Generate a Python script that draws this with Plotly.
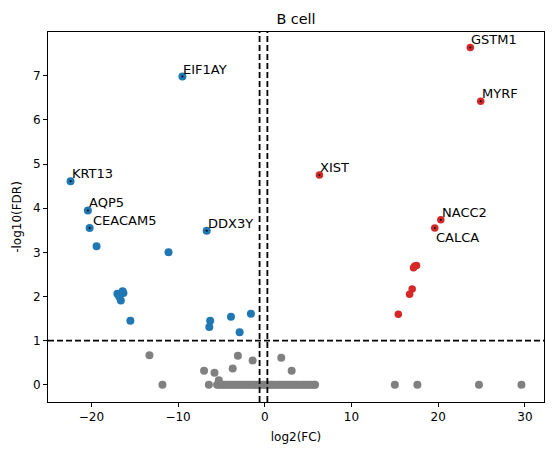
import plotly.graph_objects as go

# values (B cell)
up_genes = ["GSTM1", "MYRF", "XIST", "NACC2", "CALCA", "", "", "", "", "", ""]
up_fc = [23.7, 24.9, 6.3, 20.3, 19.6, 17.3, 17.5, 17.15, 17.0, 16.7, 15.4]
up_logfdr = [7.64, 6.42, 4.75, 3.74, 3.55, 2.69, 2.70, 2.65, 2.17, 2.05, 1.60]

down_genes = ["EIF1AY", "KRT13", "AQP5", "CEACAM5", "DDX3Y", "", "", "", "", "", "",
              "", "", "", "", "", "", ""]
down_fc = [-9.5, -22.4, -20.4, -20.2, -6.7, -19.4, -11.1, -17.0, -16.4, -16.3, -16.6,
           -16.8, -15.5, -6.3, -6.4, -3.9, -2.9, -1.6]
down_logfdr = [6.98, 4.61, 3.95, 3.55, 3.49, 3.14, 3.0, 2.06, 2.12, 2.08, 1.91,
               2.0, 1.45, 1.45, 1.31, 1.54, 1.19, 1.61]

ns_fc = [-13.3, -11.8, -7.0, -5.8, -6.45, -5.3, -3.7, -3.1, -1.4, 1.9, 3.1,
         15.0, 17.6, 24.7, 29.6,
         -5.5, -5.3, -5.05, -4.8, -4.6, -4.35, -4.1, -3.9, -3.65, -3.4, -3.2,
         -2.95, -2.7, -2.5, -2.25, -2.0, -1.8, -1.55, -1.3, -1.1, -0.85, -0.6,
         -0.4, -0.15, 0.1, 0.3, 0.55, 0.8, 1.0, 1.25, 1.5, 1.7, 1.95, 2.2, 2.4,
         2.65, 2.9, 3.1, 3.35, 3.6, 3.8, 4.05, 4.3, 4.5, 4.75, 5.0, 5.2, 5.45,
         5.7, 5.8]
ns_logfdr = [0.67, 0.0, 0.32, 0.27, 0.0, 0.1, 0.37, 0.66, 0.55, 0.61, 0.32,
             0.0, 0.0, 0.0, 0.0] + [0.0] * 50

fc_cutoffs = [-0.6, 0.3]
fdr_cutoff = 1.0

FONT = "DejaVu Sans"
W, H = 546, 447  # page body adds an 8px margin

fig = go.Figure()
fig.add_trace(go.Scatter(x=ns_fc, y=ns_logfdr, mode="markers",
                         marker=dict(color="#808080", size=8), hoverinfo="skip"))
fig.add_trace(go.Scatter(x=down_fc, y=down_logfdr, mode="markers",
                         marker=dict(color="#1f77b4", size=8)))
fig.add_trace(go.Scatter(x=up_fc, y=up_logfdr, mode="markers",
                         marker=dict(color="#d62728", size=7.5)))

# labelled genes: small black dot + text
lab_x, lab_y, lab_t = [], [], []
for genes, xs, ys in [(up_genes, up_fc, up_logfdr), (down_genes, down_fc, down_logfdr)]:
    for g, x, y in zip(genes, xs, ys):
        if g:
            lab_x.append(x)
            lab_y.append(y)
            lab_t.append(g)
fig.add_trace(go.Scatter(x=lab_x, y=lab_y, mode="markers",
                         marker=dict(color="black", size=2)))

for g, x, y in zip(lab_t, lab_x, lab_y):
    below = g == "CALCA"
    fig.add_annotation(x=x, y=y, text=g, showarrow=False,
                       xanchor="left", yanchor="top" if below else "bottom",
                       xshift=-1 if g != "CEACAM5" else 1,
                       yshift=0 if below else -2,
                       font=dict(family=FONT, size=13, color="black"))

for c in fc_cutoffs:
    fig.add_vline(x=c, line=dict(color="black", width=1.8, dash="6px,3px"))
fig.add_hline(y=fdr_cutoff, line=dict(color="black", width=1.8, dash="6px,3px"))

axis_common = dict(showgrid=False, zeroline=False, showline=True, linecolor="black",
                   linewidth=1, mirror=True, ticks="outside", ticklen=4,
                   tickcolor="black", automargin=False,
                   tickfont=dict(family=FONT, size=12, color="black"))

fig.update_layout(
    width=W, height=H,
    margin=dict(l=40, r=10, t=24, b=53),
    plot_bgcolor="white", paper_bgcolor="white",
    showlegend=False,
    font=dict(family=FONT, color="black"),
    title=dict(text="B cell", x=288 / W, xanchor="center", y=1 - 11 / H,
               yanchor="middle", font=dict(family=FONT, size=14.4, color="black")),
    xaxis=dict(range=[-25.0, 32.2], dtick=10, tick0=0,
               title=dict(text="log2(FC)", standoff=9, font=dict(family=FONT, size=12)),
               **axis_common),
    yaxis=dict(range=[-0.39, 7.99], dtick=1, tick0=0,
               title=dict(text="-log10(FDR)", standoff=8, font=dict(family=FONT, size=12)),
               **axis_common),
)

fig.write_html("out.html")
